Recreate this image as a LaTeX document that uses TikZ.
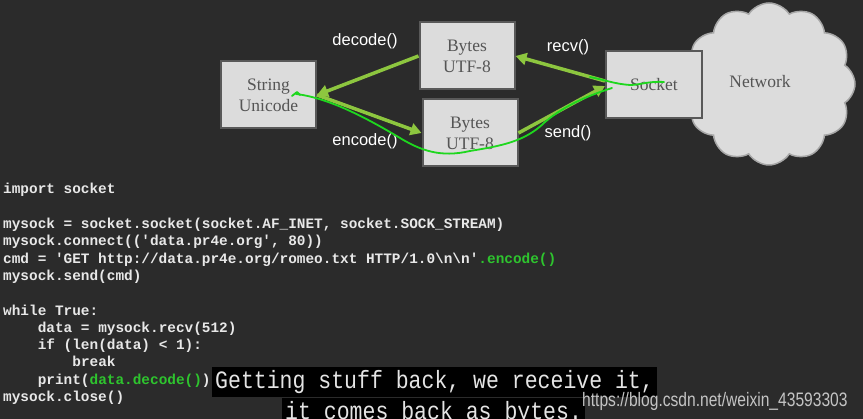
\documentclass[tikz,border=0pt]{standalone}
\usepackage{fontspec}
\setmainfont{Liberation Serif}
\newfontfamily\labelfont{Liberation Sans}
\newfontfamily\urlfont{Liberation Sans}[FakeStretch=0.8]
\newfontfamily\codefont{Liberation Mono}
\newfontfamily\subfont{Liberation Mono}[FakeStretch=0.86]
\usetikzlibrary{arrows.meta,shapes.symbols}

\definecolor{bg}{HTML}{2B2B2B}
\definecolor{boxfill}{HTML}{DCDCDC}
\definecolor{boxline}{HTML}{595959}
\definecolor{boxtext}{HTML}{555555}
\definecolor{arrowgreen}{HTML}{8DC63F}
\definecolor{inkgreen}{HTML}{1ED71E}
\definecolor{codetext}{HTML}{E8E8E8}
\definecolor{codegreen}{HTML}{2EC42E}
\definecolor{subtext}{HTML}{E4E4E4}
\definecolor{urlgray}{HTML}{C4C4C4}

\begin{document}
\begin{tikzpicture}[x=1pt,y=-1pt,
  box/.style={draw=boxline, line width=2pt, fill=boxfill, text=boxtext,
    minimum width=95pt, minimum height=67pt, align=center,
    font=\fontsize{17.5}{21}\selectfont},
  flow/.style={-{Triangle[length=11pt,width=12pt]}, line width=3.5pt, draw=arrowgreen},
  lbl/.style={text=white, font=\labelfont\fontsize{16.5}{20}\selectfont},
  code/.style={anchor=base west, inner sep=0pt, text=codetext,
    font=\codefont\bfseries\fontsize{14.4}{17}\selectfont},
  ink/.style={draw=inkgreen, line width=1.8pt, line cap=round, line join=round}]

  % Background
  \useasboundingbox (0,0) rectangle (863,419);
  \fill[bg] (0,0) rectangle (863,419);

  % Network cloud and boxes
  \node[cloud, cloud puffs=12, cloud puff arc=115, aspect=1.06, fill=boxfill,
    draw=gray!70, line width=1.5pt, minimum width=172pt, minimum height=162pt,
    inner sep=0pt, text=boxtext, font=\fontsize{17.5}{21}\selectfont] (net) at (769,84) {};
  \node[text=boxtext, font=\fontsize{17.5}{21}\selectfont] (netlbl) at (760,82) {Network};
  \node[box] (str) at (268.5,95) {String\\Unicode};
  \node[box] (bt) at (467,56) {Bytes\\UTF-8};
  \node[box] (bb) at (470,133) {Bytes\\UTF-8};
  \node[box, minimum width=96pt] (sock) at (654,84.5) {Socket};

  % Arrows
  \draw[flow] (bt.west) -- (str.east);                    % decode
  \draw[flow] (str.east) -- (bb.west);                    % encode
  \draw[flow] ([yshift=3.5pt]sock.west) -- (bt.east);     % recv
  \draw[flow] (bb.east) -- ([yshift=-1.5pt]sock.west);    % send

  % Labels
  \node[lbl] (dec) at (365,41) {decode()};
  \node[lbl] (enc) at (365,141) {encode()};
  \node[lbl] (rcv) at (568,47) {recv()};
  \node[lbl] (snd) at (568,133) {send()};

  % Hand-drawn marks
  \draw[ink] (292,96) -- (297,92) -- (300,95);
  \draw[ink] (296,94) .. controls (330,98) and (370,120) .. (400,138)
    .. controls (420,150) and (440,158) .. (470,151)
    .. controls (500,146) and (525,142) .. (545,122)
    .. controls (565,105) and (590,95) .. (612,88);
  \draw[ink] (590,77) .. controls (605,80) and (615,84) .. (630,85)
    .. controls (640,85) and (648,81) .. (664,82);

  % Code
  \node[code] (c1) at (3,194) {import socket};
  \node[code] (c2) at (3,228.6) {mysock = socket.socket(socket.AF\_INET, socket.SOCK\_STREAM)};
  \node[code] (c3) at (3,245.9) {mysock.connect(('data.pr4e.org', 80))};
  \node[code] (c4) at (3,263.2) {cmd = 'GET http://data.pr4e.org/romeo.txt HTTP/1.0\textbackslash n\textbackslash n'\textcolor{codegreen}{.encode()}};
  \node[code] (c5) at (3,280.5) {mysock.send(cmd)};
  \node[code] (c6) at (3,315.1) {while True:};
  \node[code] (c7) at (37.6,332.4) {data = mysock.recv(512)};
  \node[code] (c8) at (37.6,349.7) {if (len(data) < 1):};
  \node[code] (c9) at (72.2,367) {break};
  \node[code] (c10) at (37.6,384.3) {print(\textcolor{codegreen}{data.decode()})};
  \node[code] (c11) at (3,401.6) {mysock.close()};

  % Subtitle
  \node[fill=black, text=subtext, font=\subfont\fontsize{25}{25}\selectfont,
    inner xsep=3pt, inner ysep=0pt, minimum height=30pt, anchor=west] (sub1) at (212,382)
    {Getting stuff back, we receive it,};
  \node[fill=black, text=subtext, font=\subfont\fontsize{25}{25}\selectfont,
    inner xsep=3pt, inner ysep=0pt, minimum height=30pt, anchor=west] (sub2) at (282,413)
    {it comes back as bytes.};
  \node[anchor=west, inner sep=0pt, text=urlgray, font=\urlfont\fontsize{19.5}{20}\selectfont] (url)
    at (582,401) {https://blog.csdn.net/weixin\_43593303};
\end{tikzpicture}
\end{document}
